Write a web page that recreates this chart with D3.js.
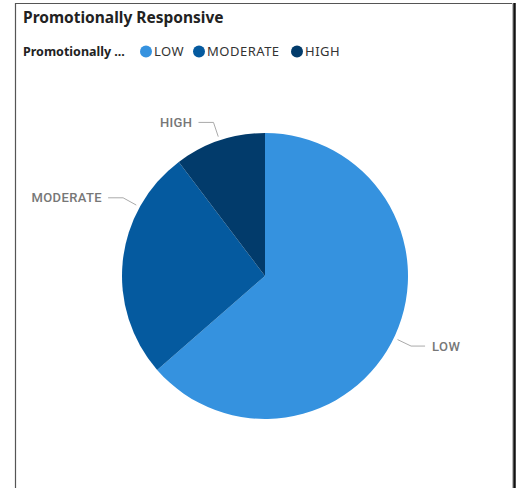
<!DOCTYPE html>
<html>
<head>
<meta charset="utf-8">
<script src="https://cdn.jsdelivr.net/npm/d3@7"></script>
<style>
  body { margin: 0; background: #fff; }
  svg { display: block; }
</style>
</head>
<body>
<svg id="chart" width="519" height="488"></svg>
<script>
// data (share of customers, %)
var categories = ["LOW", "MODERATE", "HIGH"];
var shares = [63.6, 26.1, 10.3];
var colours = ["#3592DF", "#055A9F", "#023B6B"];

var width = 519, height = 488;
var svg = d3.select("#chart");

// visual frame
svg.append("path").attr("d", "M15.5,490 V3.5 H513").attr("fill", "none")
  .attr("stroke", "#555").attr("stroke-width", 1.2);
svg.append("line").attr("x1", 512.5).attr("x2", 512.5).attr("y1", 3).attr("y2", 490)
  .attr("stroke", "#bbb");
svg.append("line").attr("x1", 514.5).attr("x2", 514.5).attr("y1", 3).attr("y2", 490)
  .attr("stroke", "#111").attr("stroke-width", 2.5);

svg.append("text").attr("x", 23).attr("y", 23)
  .attr("font-family", "'Noto Sans', sans-serif").attr("font-weight", "bold")
  .attr("font-size", 15.5).attr("fill", "#222").text("Promotionally Responsive");

// legend
var legend = svg.append("g").attr("transform", "translate(23,56)")
  .attr("font-family", "'Noto Sans', sans-serif").attr("font-size", 13);
legend.append("text").attr("font-weight", "bold").attr("font-size", 12.5).attr("fill", "#222")
  .text("Promotionally ...");
var lx = [123, 176, 274];
categories.forEach(function(c, i) {
  legend.append("circle").attr("cx", lx[i]).attr("cy", -4.5).attr("r", 6).attr("fill", colours[i]);
  legend.append("text").attr("x", lx[i] + 8).attr("fill", "#333")
    .attr("letter-spacing", 0.5).text(c);
});

// pie
var cx = 265, cy = 276, r = 143;
var colour = d3.scaleOrdinal().domain(categories).range(colours);
var pie = d3.pie().sort(null).value(function(d) { return d.v; });
var arcs = pie(categories.map(function(c, i) { return { k: c, v: shares[i] }; }));
var arc = d3.arc().innerRadius(0).outerRadius(r);

var g = svg.append("g").attr("transform", "translate(" + cx + "," + cy + ")");
g.selectAll("path.slice").data(arcs).enter().append("path").attr("class", "slice")
  .attr("d", arc).attr("fill", function(d) { return colour(d.data.k); });

// labels; Power BI nudges MODERATE's leader upward
var nudge = { LOW: 0.02, MODERATE: 0.4 };
function pt(a, rr) { return [Math.sin(a) * rr, -Math.cos(a) * rr]; }
var lab = g.selectAll("g.lab").data(arcs).enter().append("g").attr("class", "lab");
lab.each(function(d) {
  var a = (d.startAngle + d.endAngle) / 2 + (nudge[d.data.k] || 0);
  var p0 = pt(a, 147), p1 = pt(a, 162);
  var right = Math.sin(a) > 0;
  var p2 = [p1[0] + (right ? 14 : -15), p1[1]];
  d3.select(this).append("polyline")
    .attr("points", [p0, p1, p2].map(function(p) { return p.join(","); }).join(" "))
    .attr("fill", "none").attr("stroke", "#aaa").attr("stroke-width", 1);
  d3.select(this).append("text")
    .attr("x", p2[0] + (right ? 7 : -6)).attr("y", p2[1]).attr("dy", "0.35em")
    .attr("text-anchor", right ? "start" : "end")
    .attr("font-family", "Roboto, sans-serif").attr("font-size", 13).attr("font-weight", 500)
    .attr("letter-spacing", 0.4)
    .attr("fill", "#777").text(d.data.k);
});
</script>
</body>
</html>
